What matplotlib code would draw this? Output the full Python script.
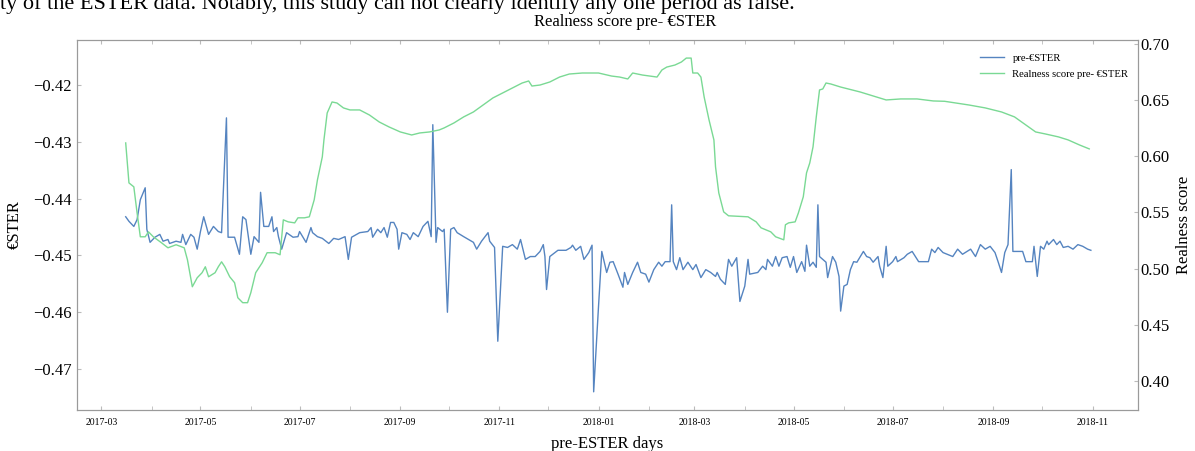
import matplotlib
matplotlib.use("Agg")
import matplotlib.pyplot as plt
import matplotlib.dates as mdates
import pandas as pd

plt.rcParams['font.family'] = ['Liberation Serif', 'DejaVu Serif']

# pre-ESTER daily rate
ester_dates = [
    "2017-03-16", "2017-03-18", "2017-03-21", "2017-03-23", "2017-03-25", "2017-03-28", "2017-03-29", "2017-03-31",
    "2017-04-03", "2017-04-06", "2017-04-08", "2017-04-11", "2017-04-12", "2017-04-16", "2017-04-19", "2017-04-20",
    "2017-04-22", "2017-04-25", "2017-04-27", "2017-04-29", "2017-05-01", "2017-05-03", "2017-05-06", "2017-05-09",
    "2017-05-12", "2017-05-14", "2017-05-17", "2017-05-18", "2017-05-22", "2017-05-25", "2017-05-27", "2017-05-29",
    "2017-06-01", "2017-06-03", "2017-06-06", "2017-06-07", "2017-06-09", "2017-06-12", "2017-06-14", "2017-06-15",
    "2017-06-17", "2017-06-18", "2017-06-20", "2017-06-23", "2017-06-27", "2017-06-30", "2017-07-01", "2017-07-05",
    "2017-07-08", "2017-07-09", "2017-07-12", "2017-07-15", "2017-07-19", "2017-07-22", "2017-07-25", "2017-07-29",
    "2017-07-31", "2017-08-02", "2017-08-07", "2017-08-12", "2017-08-14", "2017-08-15", "2017-08-18", "2017-08-20",
    "2017-08-22", "2017-08-24", "2017-08-26", "2017-08-28", "2017-08-30", "2017-08-31", "2017-09-02", "2017-09-05",
    "2017-09-07", "2017-09-09", "2017-09-12", "2017-09-15", "2017-09-18", "2017-09-20", "2017-09-21", "2017-09-23",
    "2017-09-24", "2017-09-27", "2017-09-28", "2017-09-30", "2017-10-02", "2017-10-04", "2017-10-06", "2017-10-10",
    "2017-10-13", "2017-10-16", "2017-10-18", "2017-10-21", "2017-10-25", "2017-10-26", "2017-10-29", "2017-10-31",
    "2017-11-03", "2017-11-06", "2017-11-09", "2017-11-12", "2017-11-14", "2017-11-17", "2017-11-20", "2017-11-23",
    "2017-11-26", "2017-11-28", "2017-11-29", "2017-11-30", "2017-12-02", "2017-12-07", "2017-12-12", "2017-12-15",
    "2017-12-16", "2017-12-18", "2017-12-21", "2017-12-23", "2017-12-26", "2017-12-28", "2017-12-29", "2018-01-01",
    "2018-01-03", "2018-01-06", "2018-01-08", "2018-01-10", "2018-01-13", "2018-01-16", "2018-01-17", "2018-01-19",
    "2018-01-22", "2018-01-25", "2018-01-27", "2018-01-30", "2018-02-01", "2018-02-04", "2018-02-07", "2018-02-09",
    "2018-02-11", "2018-02-14", "2018-02-15", "2018-02-16", "2018-02-18", "2018-02-20", "2018-02-22", "2018-02-25",
    "2018-02-28", "2018-03-02", "2018-03-05", "2018-03-08", "2018-03-11", "2018-03-14", "2018-03-15", "2018-03-17",
    "2018-03-20", "2018-03-22", "2018-03-24", "2018-03-27", "2018-03-29", "2018-04-01", "2018-04-03", "2018-04-04",
    "2018-04-09", "2018-04-12", "2018-04-14", "2018-04-15", "2018-04-18", "2018-04-20", "2018-04-22", "2018-04-24",
    "2018-04-27", "2018-04-29", "2018-05-01", "2018-05-03", "2018-05-06", "2018-05-08", "2018-05-09", "2018-05-11",
    "2018-05-13", "2018-05-15", "2018-05-16", "2018-05-17", "2018-05-21", "2018-05-22", "2018-05-25", "2018-05-27",
    "2018-05-29", "2018-05-30", "2018-06-01", "2018-06-03", "2018-06-05", "2018-06-07", "2018-06-09", "2018-06-13",
    "2018-06-15", "2018-06-17", "2018-06-19", "2018-06-22", "2018-06-23", "2018-06-25", "2018-06-27", "2018-06-28",
    "2018-07-01", "2018-07-03", "2018-07-04", "2018-07-08", "2018-07-10", "2018-07-13", "2018-07-17", "2018-07-20",
    "2018-07-23", "2018-07-25", "2018-07-27", "2018-07-29", "2018-08-01", "2018-08-07", "2018-08-10", "2018-08-13",
    "2018-08-18", "2018-08-21", "2018-08-24", "2018-08-27", "2018-08-30", "2018-09-02", "2018-09-04", "2018-09-06",
    "2018-09-08", "2018-09-10", "2018-09-12", "2018-09-13", "2018-09-19", "2018-09-21", "2018-09-25", "2018-09-26",
    "2018-09-28", "2018-09-30", "2018-10-02", "2018-10-04", "2018-10-05", "2018-10-08", "2018-10-10", "2018-10-12",
    "2018-10-14", "2018-10-17", "2018-10-20", "2018-10-23", "2018-10-26", "2018-10-29", "2018-10-31",
]
ester_values = [
    -0.4432, -0.4440, -0.4449, -0.4437, -0.4402, -0.4381, -0.4454, -0.4477,
    -0.4468, -0.4463, -0.4475, -0.4472, -0.4479, -0.4475, -0.4477, -0.4463,
    -0.4481, -0.4463, -0.4468, -0.4489, -0.4458, -0.4432, -0.4463, -0.4449,
    -0.4458, -0.4460, -0.4258, -0.4468, -0.4468, -0.4498, -0.4432, -0.4437,
    -0.4498, -0.4467, -0.4477, -0.4389, -0.4449, -0.4449, -0.4432, -0.4458,
    -0.4451, -0.4467, -0.4489, -0.4460, -0.4468, -0.4467, -0.4458, -0.4477,
    -0.4451, -0.4460, -0.4467, -0.4470, -0.4479, -0.4470, -0.4472, -0.4467,
    -0.4507, -0.4468, -0.4460, -0.4458, -0.4451, -0.4468, -0.4454, -0.4460,
    -0.4451, -0.4468, -0.4442, -0.4442, -0.4454, -0.4489, -0.4460, -0.4463,
    -0.4472, -0.4460, -0.4467, -0.4449, -0.4440, -0.4467, -0.4270, -0.4477,
    -0.4451, -0.4458, -0.4454, -0.4600, -0.4454, -0.4451, -0.4460, -0.4467,
    -0.4472, -0.4477, -0.4489, -0.4475, -0.4460, -0.4475, -0.4486, -0.4651,
    -0.4484, -0.4486, -0.4481, -0.4489, -0.4472, -0.4507, -0.4502, -0.4502,
    -0.4493, -0.4481, -0.4502, -0.4560, -0.4502, -0.4491, -0.4491, -0.4486,
    -0.4482, -0.4491, -0.4484, -0.4507, -0.4495, -0.4482, -0.4740, -0.4589,
    -0.4493, -0.4530, -0.4512, -0.4511, -0.4533, -0.4556, -0.4530, -0.4551,
    -0.4530, -0.4512, -0.4530, -0.4533, -0.4547, -0.4525, -0.4512, -0.4519,
    -0.4511, -0.4511, -0.4411, -0.4511, -0.4525, -0.4504, -0.4525, -0.4512,
    -0.4525, -0.4516, -0.4539, -0.4525, -0.4530, -0.4537, -0.4530, -0.4542,
    -0.4551, -0.4507, -0.4519, -0.4504, -0.4581, -0.4554, -0.4507, -0.4533,
    -0.4530, -0.4519, -0.4525, -0.4507, -0.4519, -0.4502, -0.4519, -0.4504,
    -0.4502, -0.4521, -0.4502, -0.4530, -0.4511, -0.4528, -0.4482, -0.4519,
    -0.4512, -0.4521, -0.4411, -0.4502, -0.4512, -0.4539, -0.4502, -0.4512,
    -0.4537, -0.4598, -0.4554, -0.4551, -0.4525, -0.4511, -0.4512, -0.4493,
    -0.4502, -0.4504, -0.4512, -0.4502, -0.4519, -0.4539, -0.4484, -0.4519,
    -0.4511, -0.4502, -0.4511, -0.4504, -0.4498, -0.4493, -0.4511, -0.4511,
    -0.4511, -0.4489, -0.4495, -0.4486, -0.4495, -0.4502, -0.4489, -0.4498,
    -0.4489, -0.4502, -0.4481, -0.4489, -0.4484, -0.4495, -0.4512, -0.4530,
    -0.4495, -0.4481, -0.4349, -0.4493, -0.4493, -0.4511, -0.4511, -0.4484,
    -0.4537, -0.4484, -0.4489, -0.4475, -0.4481, -0.4472, -0.4481, -0.4475,
    -0.4486, -0.4484, -0.4489, -0.4481, -0.4484, -0.4489, -0.4491,
]

# realness score (right axis)
score_dates = [
    "2017-03-16", "2017-03-18", "2017-03-21", "2017-03-23", "2017-03-25", "2017-03-28", "2017-03-30", "2017-04-02",
    "2017-04-07", "2017-04-11", "2017-04-16", "2017-04-21", "2017-04-23", "2017-04-26", "2017-04-29", "2017-05-02",
    "2017-05-04", "2017-05-06", "2017-05-10", "2017-05-12", "2017-05-14", "2017-05-16", "2017-05-19", "2017-05-22",
    "2017-05-24", "2017-05-27", "2017-05-30", "2017-06-01", "2017-06-04", "2017-06-08", "2017-06-11", "2017-06-16",
    "2017-06-19", "2017-06-21", "2017-06-24", "2017-06-28", "2017-06-30", "2017-07-04", "2017-07-07", "2017-07-10",
    "2017-07-12", "2017-07-15", "2017-07-16", "2017-07-18", "2017-07-21", "2017-07-24", "2017-07-28", "2017-08-01",
    "2017-08-07", "2017-08-13", "2017-08-19", "2017-08-25", "2017-09-01", "2017-09-08", "2017-09-13", "2017-09-19",
    "2017-09-25", "2017-09-28", "2017-10-04", "2017-10-10", "2017-10-16", "2017-10-22", "2017-10-28", "2017-11-03",
    "2017-11-09", "2017-11-15", "2017-11-19", "2017-11-21", "2017-11-26", "2017-12-02", "2017-12-08", "2017-12-14",
    "2017-12-22", "2018-01-01", "2018-01-09", "2018-01-14", "2018-01-19", "2018-01-22", "2018-01-28", "2018-02-06",
    "2018-02-09", "2018-02-12", "2018-02-17", "2018-02-21", "2018-02-24", "2018-02-27", "2018-02-28", "2018-03-03",
    "2018-03-05", "2018-03-07", "2018-03-10", "2018-03-13", "2018-03-14", "2018-03-16", "2018-03-19", "2018-03-22",
    "2018-04-03", "2018-04-08", "2018-04-11", "2018-04-17", "2018-04-20", "2018-04-25", "2018-04-26", "2018-04-28",
    "2018-05-02", "2018-05-04", "2018-05-07", "2018-05-09", "2018-05-11", "2018-05-13", "2018-05-15", "2018-05-17",
    "2018-05-19", "2018-05-21", "2018-05-24", "2018-05-30", "2018-06-11", "2018-06-19", "2018-06-27", "2018-07-06",
    "2018-07-16", "2018-07-26", "2018-08-02", "2018-08-17", "2018-08-27", "2018-09-06", "2018-09-14", "2018-09-21",
    "2018-09-27", "2018-10-03", "2018-10-11", "2018-10-17", "2018-10-24", "2018-10-30",
]
score_values = [
    0.6119, 0.5763, 0.5728, 0.5496, 0.5283, 0.5283, 0.5327, 0.5283,
    0.5230, 0.5185, 0.5212, 0.5185, 0.5078, 0.4838, 0.4918, 0.4963,
    0.5016, 0.4927, 0.4963, 0.5016, 0.5060, 0.5016, 0.4927, 0.4874,
    0.4740, 0.4696, 0.4696, 0.4785, 0.4963, 0.5052, 0.5141, 0.5141,
    0.5123, 0.5434, 0.5416, 0.5407, 0.5452, 0.5452, 0.5461, 0.5612,
    0.5790, 0.5995, 0.6146, 0.6386, 0.6484, 0.6475, 0.6431, 0.6413,
    0.6413, 0.6368, 0.6306, 0.6262, 0.6217, 0.6190, 0.6208, 0.6217,
    0.6235, 0.6253, 0.6297, 0.6351, 0.6395, 0.6457, 0.6520, 0.6564,
    0.6609, 0.6653, 0.6671, 0.6626, 0.6635, 0.6662, 0.6706, 0.6733,
    0.6742, 0.6742, 0.6715, 0.6706, 0.6689, 0.6742, 0.6724, 0.6706,
    0.6769, 0.6795, 0.6813, 0.6840, 0.6875, 0.6875, 0.6742, 0.6742,
    0.6706, 0.6528, 0.6324, 0.6146, 0.5906, 0.5674, 0.5505, 0.5470,
    0.5461, 0.5416, 0.5363, 0.5327, 0.5283, 0.5256, 0.5390, 0.5407,
    0.5416, 0.5496, 0.5639, 0.5852, 0.5941, 0.6084, 0.6351, 0.6591,
    0.6600, 0.6653, 0.6644, 0.6617, 0.6573, 0.6537, 0.6502, 0.6511,
    0.6511, 0.6493, 0.6490, 0.6457, 0.6431, 0.6395, 0.6351, 0.6279,
    0.6217, 0.6199, 0.6173, 0.6146, 0.6101, 0.6066,
]

BLUE = "#5584c0"
GREEN = "#7ad994"

fig = plt.figure(figsize=(11.95, 4.51), dpi=100)
ax = fig.add_axes([0.0644, 0.0909, 0.8879, 0.8204])
ax2 = ax.twinx()

l1, = ax.plot(pd.to_datetime(ester_dates), ester_values, color=BLUE, lw=1.0, label="pre-€STER")
l2, = ax2.plot(pd.to_datetime(score_dates), score_values, color=GREEN, lw=1.0, label="Realness score pre- €STER")

ax.set_xlim(pd.Timestamp("2017-02-14"), pd.Timestamp("2018-11-29"))
ax.set_ylim(-0.4772, -0.4121)
ax2.set_ylim(0.374, 0.7036)

ax.set_yticks([-0.42, -0.43, -0.44, -0.45, -0.46, -0.47])
ax2.set_yticks([0.40, 0.45, 0.50, 0.55, 0.60, 0.65, 0.70])
ax.yaxis.set_major_formatter(plt.FuncFormatter(lambda v, p: f"\u2212{abs(v):.2f}"))
ax2.yaxis.set_major_formatter(plt.FuncFormatter(lambda v, p: f"{v:.2f}"))

ax.xaxis.set_major_locator(mdates.MonthLocator(bymonth=[1, 3, 5, 7, 9, 11]))
ax.xaxis.set_major_formatter(mdates.DateFormatter("%Y-%m"))
ax.xaxis.set_minor_locator(mdates.MonthLocator())

for a in (ax, ax2):
    for s in a.spines.values():
        s.set_color("#9a9a9a")
        s.set_linewidth(0.8)
    a.tick_params(which="both", direction="in", color="#bbbbbb", length=3)

ax.tick_params(axis="x", labelsize=7, pad=6, top=True, which="both")
ax.tick_params(axis="y", labelsize=12)
ax2.tick_params(axis="y", labelsize=12, pad=2)

ax.set_xlabel("pre-ESTER days", fontsize=12, labelpad=6)
ax.set_ylabel("€STER", fontsize=12, labelpad=8)
ax2.set_ylabel("Realness score", fontsize=12, labelpad=4)
ax.set_title("Realness score pre- €STER", fontsize=12, pad=10, x=0.517)

ax2.legend(handles=[l1, l2], loc="upper right", frameon=False, fontsize=7.7,
           bbox_to_anchor=(1.0, 0.99), handlelength=2.2, labelspacing=0.6)

fig.text(0.0, 1 - 9 / 451, "ty of the ESTER data. Notably, this study can not clearly identify any one period as false.",
         fontsize=16, va="baseline", ha="left")

fig.savefig("out.png", dpi=100)
